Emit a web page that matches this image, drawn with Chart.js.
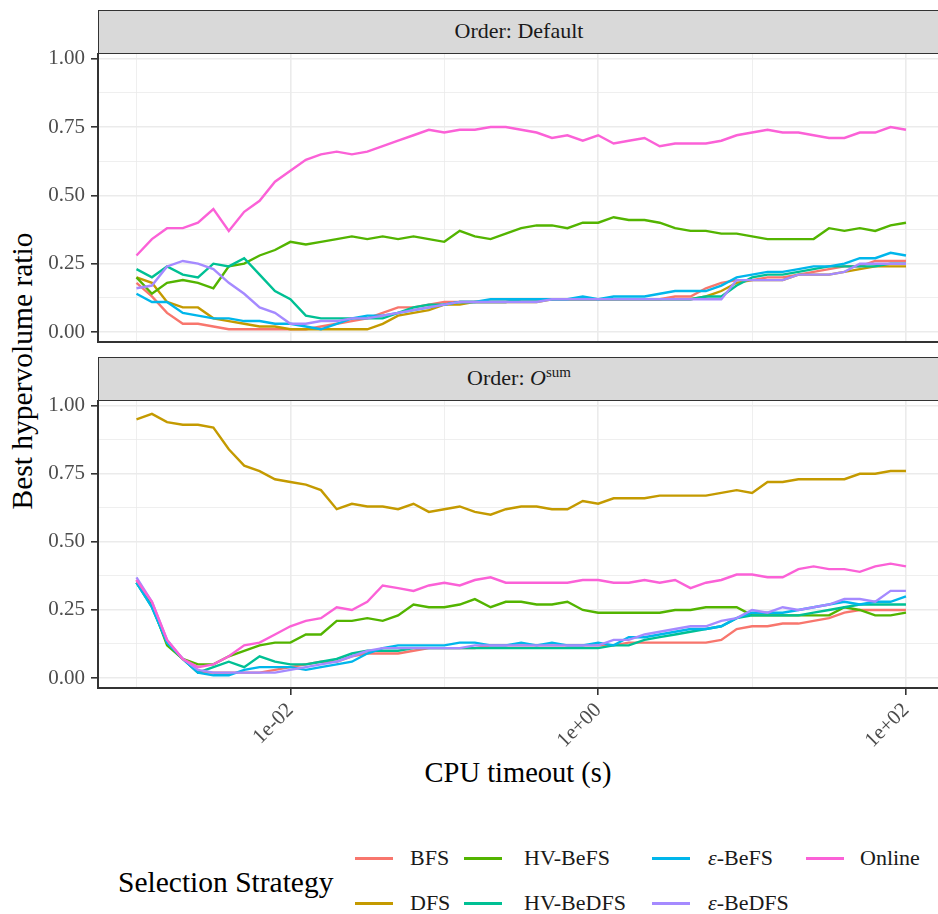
<!DOCTYPE html>
<html>
<head>
<meta charset="utf-8">
<script src="https://cdn.jsdelivr.net/npm/chart.js@4.4.1/dist/chart.umd.min.js"></script>
<style>
html, body { margin: 0; padding: 0; background: #fff; overflow: hidden; }
#fig { position: relative; width: 938px; height: 914px; overflow: hidden; font-family: "Liberation Serif", serif; color: #000; }
.strip { position: absolute; left: 98px; width: 860px; height: 44px; background: #D9D9D9; border: 1.5px solid #333; box-sizing: border-box; z-index: 2; }
.strip span { position: absolute; left: 0; width: 840px; text-align: center; top: 50%; transform: translateY(-52%); font-size: 22px; color: #1A1A1A; white-space: nowrap; }
.strip sup { font-size: 15px; vertical-align: 8px; line-height: 0; }
.panel { position: absolute; left: 0; z-index: 1; }
#ytitle { position: absolute; left: 22px; top: 371px; transform: translate(-50%, -50%) rotate(-90deg); font-size: 29.5px; white-space: nowrap; }
#xtitle { position: absolute; left: 518px; top: 773px; transform: translate(-50%, -50%); font-size: 28.5px; white-space: nowrap; }
#legtitle { position: absolute; left: 118px; top: 882px; transform: translateY(-50%); font-size: 29.5px; white-space: nowrap; }
.key { position: absolute; width: 38px; height: 3px; }
.lab { position: absolute; transform: translateY(-50%); font-size: 22px; white-space: nowrap; color: #1A1A1A; }
</style>
</head>
<body>
<div id="fig">
  <div class="strip" style="top:10px"><span>Order: Default</span></div>
  <div class="strip" style="top:357px"><span>Order: <i>O</i><sup>sum</sup></span></div>
  <canvas id="topChart" class="panel" style="top:33px" width="938" height="329"></canvas>
  <canvas id="bottomChart" class="panel" style="top:380px" width="938" height="400"></canvas>
  <div id="ytitle">Best hypervolume ratio</div>
  <div id="xtitle">CPU timeout (s)</div>
  <div id="legtitle">Selection Strategy</div>
  <div id="legend"></div>
</div>
<script>
// CPU timeouts (s), 10 steps per decade
const timeouts = [0.001, 0.00126, 0.00158, 0.002, 0.00251, 0.00316, 0.00398, 0.00501, 0.00631, 0.00794,
  0.01, 0.0126, 0.0158, 0.02, 0.0251, 0.0316, 0.0398, 0.0501, 0.0631, 0.0794,
  0.1, 0.126, 0.158, 0.2, 0.251, 0.316, 0.398, 0.501, 0.631, 0.794,
  1, 1.26, 1.58, 2, 2.51, 3.16, 3.98, 5.01, 6.31, 7.94,
  10, 12.6, 15.8, 20, 25.1, 31.6, 39.8, 50.1, 63.1, 79.4, 100];

const strategies = ['BFS', 'DFS', 'HV-BeFS', 'HV-BeDFS', 'ε-BeFS', 'ε-BeDFS', 'Online'];
const legendLabels = ['BFS', 'DFS', 'HV-BeFS', 'HV-BeDFS', '<i>ε</i>-BeFS', '<i>ε</i>-BeDFS', 'Online'];
const colors = ['#F8766D', '#C49A00', '#53B400', '#00C094', '#00B6EB', '#A58AFF', '#FB61D7'];

// Order: Default
const defBFS = [0.18,0.13,0.07,0.03,0.03,0.02,0.01,0.01,0.01,0.01, 0.01,0.01,0.02,0.03,0.04,0.05,0.07,0.09,0.09,0.10,
  0.11,0.11,0.11,0.11,0.11,0.12,0.12,0.12,0.12,0.12, 0.12,0.12,0.12,0.12,0.12,0.13,0.13,0.16,0.18,0.19,
  0.19,0.20,0.20,0.21,0.22,0.23,0.24,0.24,0.26,0.26,0.26];
const defDFS = [0.20,0.18,0.11,0.09,0.09,0.05,0.04,0.03,0.02,0.02, 0.01,0.01,0.01,0.01,0.01,0.01,0.03,0.06,0.07,0.08,
  0.10,0.10,0.11,0.11,0.11,0.11,0.11,0.12,0.12,0.12, 0.12,0.12,0.12,0.12,0.12,0.12,0.12,0.13,0.15,0.18,
  0.19,0.19,0.19,0.21,0.21,0.21,0.22,0.23,0.24,0.24,0.24];
const defHVBeFS = [0.20,0.14,0.18,0.19,0.18,0.16,0.24,0.25,0.28,0.30, 0.33,0.32,0.33,0.34,0.35,0.34,0.35,0.34,0.35,0.34,
  0.33,0.37,0.35,0.34,0.36,0.38,0.39,0.39,0.38,0.40, 0.40,0.42,0.41,0.41,0.40,0.38,0.37,0.37,0.36,0.36,
  0.35,0.34,0.34,0.34,0.34,0.38,0.37,0.38,0.37,0.39,0.40];
const defHVBeDFS = [0.23,0.20,0.24,0.21,0.20,0.25,0.24,0.27,0.21,0.15, 0.12,0.06,0.05,0.05,0.05,0.05,0.05,0.07,0.09,0.10,
  0.10,0.11,0.11,0.11,0.11,0.12,0.12,0.12,0.12,0.12, 0.12,0.12,0.12,0.12,0.12,0.12,0.12,0.13,0.13,0.17,
  0.20,0.21,0.21,0.22,0.23,0.24,0.24,0.24,0.24,0.25,0.25];
const defEBeFS = [0.14,0.11,0.11,0.07,0.06,0.05,0.05,0.04,0.04,0.03, 0.03,0.02,0.01,0.03,0.05,0.06,0.06,0.07,0.08,0.09,
  0.10,0.11,0.11,0.12,0.12,0.12,0.12,0.12,0.12,0.13, 0.12,0.13,0.13,0.13,0.14,0.15,0.15,0.15,0.17,0.20,
  0.21,0.22,0.22,0.23,0.24,0.24,0.25,0.27,0.27,0.29,0.28];
const defEBeDFS = [0.16,0.17,0.24,0.26,0.25,0.23,0.18,0.14,0.09,0.07, 0.03,0.03,0.04,0.04,0.05,0.05,0.06,0.07,0.08,0.09,
  0.10,0.11,0.11,0.11,0.11,0.11,0.11,0.12,0.12,0.12, 0.12,0.12,0.12,0.12,0.12,0.12,0.12,0.12,0.12,0.19,
  0.19,0.19,0.19,0.21,0.21,0.21,0.22,0.25,0.25,0.25,0.25];
const defOnline = [0.28,0.34,0.38,0.38,0.40,0.45,0.37,0.44,0.48,0.55, 0.59,0.63,0.65,0.66,0.65,0.66,0.68,0.70,0.72,0.74,
  0.73,0.74,0.74,0.75,0.75,0.74,0.73,0.71,0.72,0.70, 0.72,0.69,0.70,0.71,0.68,0.69,0.69,0.69,0.70,0.72,
  0.73,0.74,0.73,0.73,0.72,0.71,0.71,0.73,0.73,0.75,0.74];

// Order: O^sum
const sumBFS = [0.36,0.27,0.13,0.07,0.02,0.02,0.02,0.02,0.02,0.03, 0.04,0.05,0.06,0.06,0.08,0.09,0.09,0.09,0.10,0.11,
  0.11,0.11,0.11,0.12,0.12,0.12,0.12,0.12,0.12,0.12, 0.12,0.12,0.13,0.13,0.13,0.13,0.13,0.13,0.14,0.18,
  0.19,0.19,0.20,0.20,0.21,0.22,0.24,0.25,0.25,0.25,0.25];
const sumDFS = [0.95,0.97,0.94,0.93,0.93,0.92,0.84,0.78,0.76,0.73, 0.72,0.71,0.69,0.62,0.64,0.63,0.63,0.62,0.64,0.61,
  0.62,0.63,0.61,0.60,0.62,0.63,0.63,0.62,0.62,0.65, 0.64,0.66,0.66,0.66,0.67,0.67,0.67,0.67,0.68,0.69,
  0.68,0.72,0.72,0.73,0.73,0.73,0.73,0.75,0.75,0.76,0.76];
const sumHVBeFS = [0.35,0.27,0.12,0.07,0.05,0.05,0.08,0.10,0.12,0.13, 0.13,0.16,0.16,0.21,0.21,0.22,0.21,0.23,0.27,0.26,
  0.26,0.27,0.29,0.26,0.28,0.28,0.27,0.27,0.28,0.25, 0.24,0.24,0.24,0.24,0.24,0.25,0.25,0.26,0.26,0.26,
  0.23,0.23,0.23,0.23,0.23,0.23,0.26,0.25,0.23,0.23,0.24];
const sumHVBeDFS = [0.35,0.26,0.13,0.07,0.02,0.04,0.06,0.04,0.08,0.06, 0.05,0.05,0.06,0.07,0.09,0.10,0.10,0.10,0.11,0.11,
  0.11,0.11,0.11,0.11,0.11,0.11,0.11,0.11,0.11,0.11, 0.11,0.12,0.12,0.14,0.15,0.16,0.17,0.18,0.19,0.22,
  0.23,0.23,0.23,0.23,0.24,0.25,0.26,0.27,0.27,0.27,0.27];
const sumEBeFS = [0.35,0.26,0.13,0.07,0.02,0.01,0.01,0.03,0.04,0.04, 0.04,0.03,0.04,0.05,0.06,0.09,0.11,0.12,0.12,0.12,
  0.12,0.13,0.13,0.12,0.12,0.13,0.12,0.13,0.12,0.12, 0.13,0.12,0.15,0.15,0.16,0.17,0.18,0.18,0.19,0.22,
  0.24,0.24,0.24,0.25,0.26,0.27,0.28,0.27,0.28,0.28,0.30];
const sumEBeDFS = [0.37,0.28,0.14,0.07,0.03,0.02,0.02,0.02,0.02,0.02, 0.03,0.04,0.05,0.06,0.08,0.10,0.11,0.11,0.11,0.11,
  0.11,0.11,0.12,0.12,0.12,0.12,0.12,0.12,0.12,0.12, 0.12,0.14,0.14,0.16,0.17,0.18,0.19,0.19,0.21,0.22,
  0.25,0.24,0.26,0.25,0.26,0.27,0.29,0.29,0.28,0.32,0.32];
const sumOnline = [0.36,0.28,0.14,0.07,0.04,0.05,0.08,0.12,0.13,0.16, 0.19,0.21,0.22,0.26,0.25,0.28,0.34,0.33,0.32,0.34,
  0.35,0.34,0.36,0.37,0.35,0.35,0.35,0.35,0.35,0.36, 0.36,0.35,0.35,0.36,0.35,0.36,0.33,0.35,0.36,0.38,
  0.38,0.37,0.37,0.40,0.41,0.40,0.40,0.39,0.41,0.42,0.41];

// axis breaks ('' = minor grid line only)
const xGrid = [0.001, 0.01, 0.1, 1, 10, 100];
const xTickLabels = ['', '1e-02', '', '1e+00', '', '1e+02'];
const yGrid = [0, 0.125, 0.25, 0.375, 0.5, 0.625, 0.75, 0.875, 1];
const yTickLabels = ['0.00', '', '0.25', '', '0.50', '', '0.75', '', '1.00'];

const tickFont = { family: 'Liberation Serif', size: 21 };

const panelBorder = {
  id: 'panelBorder',
  afterDraw(chart) {
    const a = chart.chartArea, c = chart.ctx;
    c.save();
    c.strokeStyle = '#333333';
    c.lineWidth = 2;
    c.beginPath();
    c.moveTo(a.left, a.top);
    c.lineTo(a.left, a.bottom);
    c.lineTo(a.right + 5, a.bottom);
    c.stroke();
    c.restore();
  }
};

function makePanel(id, series, showX) {
  const datasets = strategies.map((name, i) => ({
    label: name,
    data: timeouts.map((t, k) => ({ x: t, y: series[i][k] })),
    borderColor: colors[i],
    borderWidth: 2.4,
    pointRadius: 0,
    tension: 0,
    fill: false,
    order: strategies.length - i
  }));

  new Chart(document.getElementById(id), {
    type: 'line',
    data: { datasets },
    options: {
      responsive: false,
      animation: false,
      events: [],
      layout: { padding: { top: 20, bottom: 20, left: 0, right: 0 } },
      plugins: { legend: { display: false }, tooltip: { enabled: false } },
      scales: {
        x: {
          type: 'logarithmic',
          min: Math.pow(10, -3.25),
          max: Math.pow(10, 2.208),
          afterBuildTicks: s => { s.ticks = xGrid.map(v => ({ value: v })); },
          afterFit: s => { s.height = showX ? 72 : 0; s.paddingLeft = 0; s.paddingRight = 0; },
          border: { display: false },
          grid: {
            color: '#EBEBEB',
            lineWidth: c => xTickLabels[c.index] ? 1.6 : 0.8,
            drawTicks: showX,
            tickLength: 7,
            tickWidth: 1.6,
            tickColor: c => xTickLabels[c.index] ? '#333333' : 'rgba(0,0,0,0)'
          },
          ticks: {
            display: showX,
            autoSkip: false,
            minRotation: 45,
            maxRotation: 45,
            padding: 3,
            font: tickFont,
            color: '#4D4D4D',
            callback: (v, i) => xTickLabels[i]
          }
        },
        y: {
          min: -0.0366,
          max: 1.021,
          afterBuildTicks: s => { s.ticks = yGrid.map(v => ({ value: v })); },
          afterFit: s => { s.width = 98; s.paddingTop = 0; s.paddingBottom = 0; },
          border: { display: false },
          grid: {
            color: '#EBEBEB',
            lineWidth: c => yTickLabels[c.index] ? 1.6 : 0.8,
            tickLength: 7,
            tickWidth: 1.6,
            tickColor: c => yTickLabels[c.index] ? '#333333' : 'rgba(0,0,0,0)'
          },
          ticks: {
            autoSkip: false,
            padding: 6,
            font: tickFont,
            color: '#4D4D4D',
            callback: (v, i) => yTickLabels[i]
          }
        }
      }
    },
    plugins: [panelBorder]
  });
}

makePanel('topChart', [defBFS, defDFS, defHVBeFS, defHVBeDFS, defEBeFS, defEBeDFS, defOnline], false);
makePanel('bottomChart', [sumBFS, sumDFS, sumHVBeFS, sumHVBeDFS, sumEBeFS, sumEBeDFS, sumOnline], true);

// legend: 2 rows, filled column by column
const keyX = [355, 464, 652, 806];
const labX = [410, 524, 708, 860];
const rowY = [858, 903];
const legend = document.getElementById('legend');
strategies.forEach((name, i) => {
  const col = Math.floor(i / 2), row = i % 2;
  const key = document.createElement('div');
  key.className = 'key';
  key.style.left = keyX[col] + 'px';
  key.style.top = (rowY[row] - 1.5) + 'px';
  key.style.background = colors[i];
  legend.appendChild(key);
  const lab = document.createElement('div');
  lab.className = 'lab';
  lab.style.left = labX[col] + 'px';
  lab.style.top = rowY[row] + 'px';
  lab.innerHTML = legendLabels[i];
  legend.appendChild(lab);
});
</script>
</body>
</html>
